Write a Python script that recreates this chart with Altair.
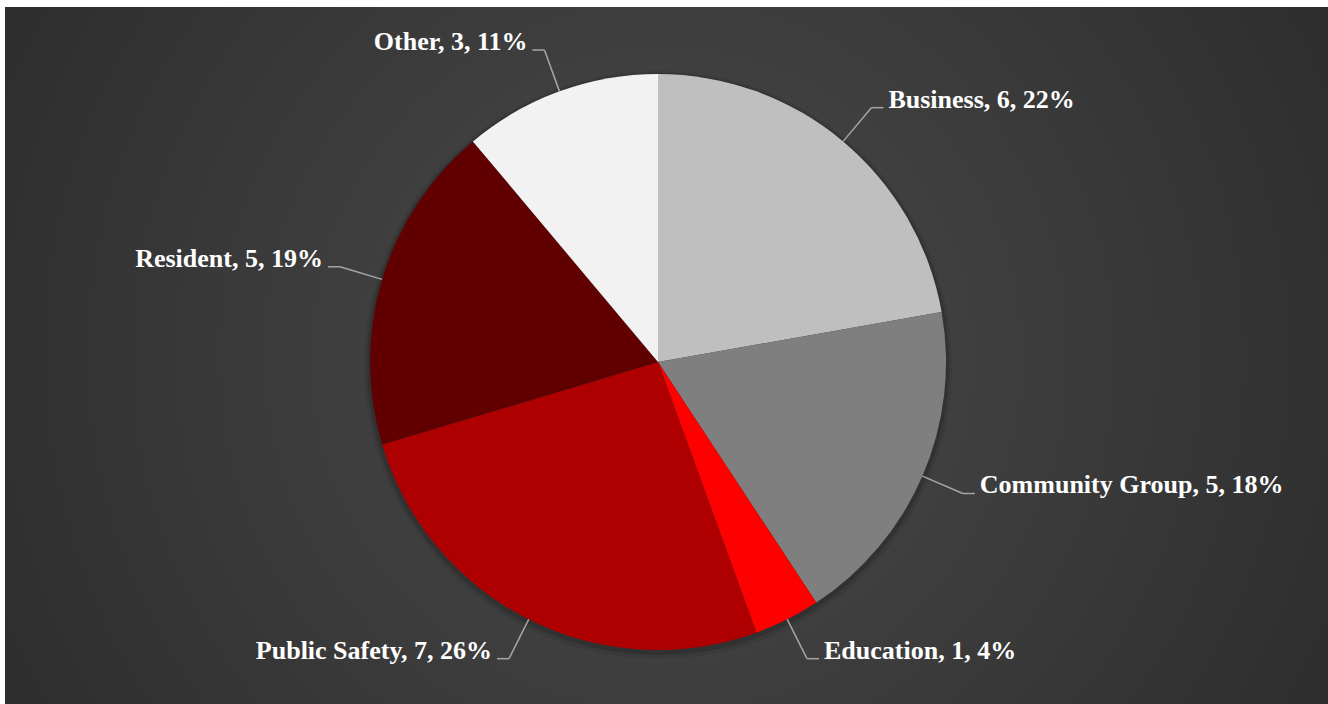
import altair as alt
import pandas as pd
import numpy as np

categories = ["Business", "Community Group", "Education", "Public Safety", "Resident", "Other"]
values = [6, 5, 1, 7, 5, 3]
pct_labels = ["22%", "18%", "4%", "26%", "19%", "11%"]
colors = ["#bfbfbf", "#7f7f7f", "#ff0000", "#ae0000", "#600000", "#f2f2f2"]

W, H = 1328, 704
CX, CY = 658, 362
R = 288
R_ELBOW = 332
HSEG = 12
GAP = 5
TEXT_LIFT = 8

df = pd.DataFrame({"cat": categories, "value": values, "pct": pct_labels,
                   "idx": list(range(len(categories)))})
df["label"] = df["cat"] + ", " + df["value"].astype(str) + ", " + df["pct"]
total = df["value"].sum()
cum = df["value"].cumsum()
mid = (cum - df["value"] / 2) / total * 2 * np.pi
s = np.sin(mid)
c = np.cos(mid)
side = np.where(s >= 0, 1, -1)
df["ex"] = s
df["ey"] = c
df["bx"] = s * R_ELBOW / R
df["by"] = c * R_ELBOW / R
df["hx"] = df["bx"] + side * HSEG / R
df["tx"] = df["hx"] + side * GAP / R
df["ty"] = df["by"] + TEXT_LIFT / R
df["side"] = side

xs = alt.Scale(domain=[-CX / R, (W - CX) / R], nice=False, zero=False)
ys = alt.Scale(domain=[-(H - CY) / R, CY / R], nice=False, zero=False)

bg_data = pd.DataFrame({"k": [0]})

bg = alt.Chart(bg_data).mark_rect(
    color=alt.Gradient(
        gradient="radial",
        stops=[alt.GradientStop(color="#4a4a4a", offset=0),
               alt.GradientStop(color="#3a3a3a", offset=0.45),
               alt.GradientStop(color="#252525", offset=1)],
        x1=0.5, y1=0.5, r1=0, x2=0.5, y2=0.5, r2=0.72,
    )
).encode(x=alt.value(5), x2=alt.value(W), y=alt.value(7), y2=alt.value(H))

shadow1 = alt.Chart(bg_data).mark_arc(theta=0, theta2=2 * np.pi, outerRadius=R + 6,
                                       color="#000000", opacity=0.08).encode(
    x=alt.value(CX), y=alt.value(CY + 3))
shadow2 = alt.Chart(bg_data).mark_arc(theta=0, theta2=2 * np.pi, outerRadius=R + 3,
                                       color="#000000", opacity=0.15).encode(
    x=alt.value(CX), y=alt.value(CY + 2))

pie = alt.Chart(df).mark_arc(outerRadius=R).encode(
    theta=alt.Theta("value:Q", stack=True),
    order=alt.Order("idx:Q"),
    color=alt.Color("cat:N", scale=alt.Scale(domain=categories, range=colors), legend=None),
    x=alt.value(CX), y=alt.value(CY),
)

lead1 = alt.Chart(df).mark_rule(color="#a6a6a6", strokeWidth=1.5).encode(
    x=alt.X("ex:Q", scale=xs, axis=None), y=alt.Y("ey:Q", scale=ys, axis=None),
    x2="bx:Q", y2="by:Q")
lead2 = alt.Chart(df).mark_rule(color="#a6a6a6", strokeWidth=1.5).encode(
    x=alt.X("bx:Q", scale=xs, axis=None), y=alt.Y("by:Q", scale=ys, axis=None),
    x2="hx:Q", y2="by:Q")

font = dict(font="Liberation Serif", fontSize=26, fontWeight="bold", color="#ffffff",
            baseline="middle")
txt_r = alt.Chart(df).transform_filter("datum.side > 0").mark_text(align="left", **font).encode(
    x=alt.X("tx:Q", scale=xs, axis=None), y=alt.Y("ty:Q", scale=ys, axis=None), text="label:N")
txt_l = alt.Chart(df).transform_filter("datum.side < 0").mark_text(align="right", **font).encode(
    x=alt.X("tx:Q", scale=xs, axis=None), y=alt.Y("ty:Q", scale=ys, axis=None), text="label:N")

chart = alt.layer(bg, shadow1, shadow2, pie, lead1, lead2, txt_r, txt_l).properties(
    width=W, height=H, padding=0, autosize=alt.AutoSizeParams(type="none"),
    background="#ffffff",
).configure_view(stroke=None).resolve_scale(color="independent")

chart.save("out.html", embed_options={"renderer": "svg", "actions": False})
